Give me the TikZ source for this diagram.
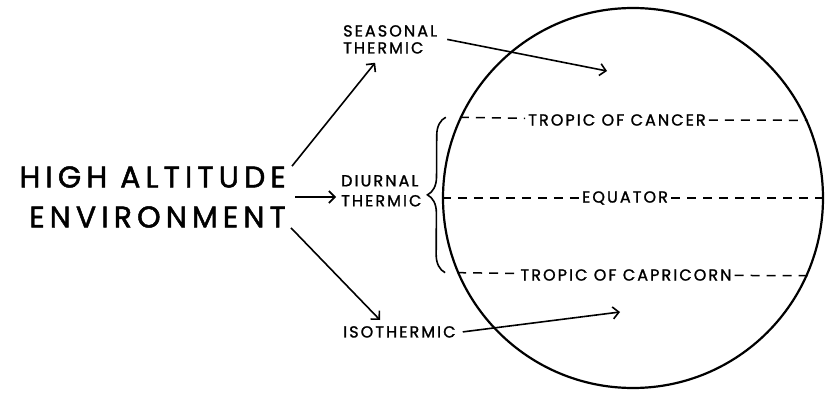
\documentclass[tikz,border=0pt]{standalone}
\usepackage{fontspec}
\setmainfont{Poppins}
\newfontfamily\bigletter[LetterSpace=17,FakeBold=1.6]{Poppins}
\newfontfamily\letter[LetterSpace=13,FakeBold=1.4]{Poppins}
\usetikzlibrary{arrows.meta,decorations.pathreplacing}

\begin{document}
\begin{tikzpicture}[x=1pt,y=-1pt,
  lbl/.style={font=\letter\fontsize{16}{17}\selectfont,inner sep=0pt,align=left},
  cut/.style={lbl,fill=white,inner xsep=3pt},
  arr/.style={line width=1.6pt,-{Straight Barb[length=6pt,width=12pt,line width=1.6pt]}},
  lat/.style={line width=1.5pt,dash pattern=on 9pt off 7pt}]
  \useasboundingbox (0,0) rectangle (825,393);
  % the globe
  \node[circle,draw,line width=2.2pt,minimum size=380pt,inner sep=0pt] (globe) at (633,198) {};
  \node[cut] (cancer) at (617,120) {TROPIC OF CANCER};
  \node[cut] (equator) at (625,198) {EQUATOR};
  \node[cut] (capricorn) at (626,275) {TROPIC OF CAPRICORN};
  \draw[lat] (globe.155.8) -- (cancer);
  \draw[lat] (cancer) -- (globe.24.2);
  \draw[lat] (globe.180) -- (equator);
  \draw[lat] (equator) -- (globe.0);
  \draw[lat] (globe.203.9) -- (capricorn);
  \draw[lat] (capricorn) -- (globe.336.1);
  % labels
  \node[font=\bigletter\fontsize{30}{40}\selectfont,align=right,inner sep=0pt,anchor=east] (hae) at (286,197) {HIGH ALTITUDE\\ENVIRONMENT};
  \node[lbl,anchor=north west] (seasonal) at (343,25) {SEASONAL\\THERMIC};
  \node[lbl,anchor=north west,font=\letter\fontsize{16}{20}\selectfont] (diurnal) at (341,175) {DIURNAL\\THERMIC};
  \node[lbl,anchor=north west] (iso) at (343,326) {ISOTHERMIC};
  \coordinate (sdot) at (607,71);
  \coordinate (idot) at (620,312);
  % arrows
  \draw[arr] ([xshift=6pt]hae.north east) -- ([xshift=-15pt,yshift=-9pt]seasonal.south);
  \draw[arr] ([xshift=9pt]hae.east) -- ([xshift=-5pt]hae.east -| diurnal.west);
  \draw[arr] ([xshift=5pt]hae.south east) -- ([xshift=37pt,yshift=6pt]iso.north west);
  \draw[arr] ([xshift=10pt]seasonal.east) -- (sdot);
  \draw[arr] ([xshift=7pt]iso.east) -- (idot);
  \draw[line width=1.6pt,decorate,decoration={brace,amplitude=18pt}]
    ([xshift=-12pt]globe.203.9) -- ([xshift=-14pt]globe.155.8);
\end{tikzpicture}
\end{document}
